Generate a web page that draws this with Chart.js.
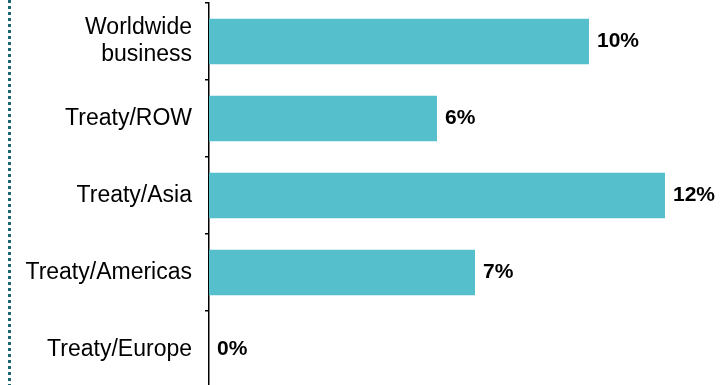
<!DOCTYPE html>
<html>
<head>
<meta charset="utf-8">
<script src="https://cdn.jsdelivr.net/npm/chart.js@4.4.0/dist/chart.umd.min.js"></script>
<style>
  html, body { margin: 0; padding: 0; background: #fff; overflow: hidden; }
  #wrap { position: relative; width: 721px; height: 390px; }
</style>
</head>
<body>
<div id="wrap"><canvas id="growthChart"></canvas></div>
<script>
const categories = [['Worldwide', 'business'], 'Treaty/ROW', 'Treaty/Asia', 'Treaty/Americas', 'Treaty/Europe'];
const growth = [10, 6, 12, 7, 0];

// percentage labels at the end of each bar, plus the dotted rule on the left
const barLabels = {
    id: 'barLabels',
    afterDatasetsDraw(chart) {
        const ctx = chart.ctx;
        const meta = chart.getDatasetMeta(0);
        ctx.save();
        ctx.font = 'bold 21px "Liberation Sans", Arial, sans-serif';
        ctx.fillStyle = '#000';
        ctx.textBaseline = 'middle';
        ctx.textAlign = 'left';
        meta.data.forEach((bar, i) => {
            ctx.fillText(growth[i] + '%', bar.x + 8, bar.y);
        });
        ctx.restore();
    },
    beforeDraw(chart) {
        const ctx = chart.ctx;
        ctx.save();
        ctx.strokeStyle = '#1c6672';
        ctx.lineWidth = 3;
        ctx.setLineDash([3, 3]);
        ctx.beginPath();
        ctx.moveTo(9.5, 0);
        ctx.lineTo(9.5, chart.height);
        ctx.stroke();
        ctx.restore();
    }
};

const ctx = document.getElementById('growthChart').getContext('2d');
const growthChart = new Chart(ctx, {
    type: 'bar',
    data: {
        labels: categories,
        datasets: [{
            data: growth,
            backgroundColor: '#56bfcc',
            categoryPercentage: 1,
            barPercentage: 0.59
        }]
    },
    options: {
        indexAxis: 'y',
        responsive: true,
        maintainAspectRatio: false,
        animation: false,
        layout: { padding: { top: 3, right: 18, bottom: 2, left: 0 } },
        plugins: {
            legend: { display: false },
            tooltip: { enabled: false }
        },
        scales: {
            x: {
                display: false,
                min: 0,
                max: 13
            },
            y: {
                afterFit(scale) {
                    scale.width = 209;
                    scale.paddingTop = 0;
                    scale.paddingBottom = 0;
                },
                border: { display: true, color: '#000', width: 1.5 },
                grid: {
                    offset: true,
                    drawOnChartArea: false,
                    drawTicks: true,
                    tickLength: 4,
                    color: '#000',
                    lineWidth: 1.5
                },
                ticks: {
                    color: '#000',
                    padding: 13,
                    font: { family: '"Liberation Sans", Arial, sans-serif', size: 23, lineHeight: 1.17 }
                }
            }
        }
    },
    plugins: [barLabels]
});
</script>
</body>
</html>
